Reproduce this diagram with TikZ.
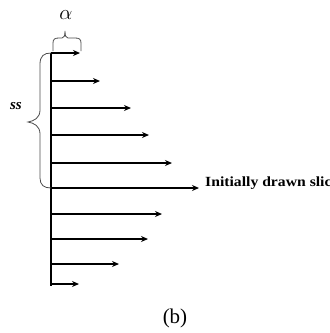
\documentclass[tikz,border=0pt]{standalone}
\usepackage{fontspec}
\setmainfont{Liberation Serif}
\usetikzlibrary{arrows.meta}
\begin{document}
\begin{tikzpicture}[x=1pt,y=-1pt,
  ray/.style={line width=1.2pt,-{Stealth[length=7pt,width=6pt]}},
  bracestyle/.style={line width=0.8pt,gray!60!black}]
\useasboundingbox (0,0) rectangle (330,333);
\coordinate (top) at (51,53);
\coordinate (bot) at (51,286);
\draw[line width=1.6pt] (top) -- (bot);
% rays
\foreach \n/\y/\x in {1/53/80,2/81/100,3/108/131,4/135/149,5/163/172,6/188/199,7/214/162,8/239/148,9/264/119,10/284/79}{
  \coordinate (s\n) at (51,\y);
  \coordinate (e\n) at (\x,\y);
  \draw[ray] (s\n) -- (e\n);
}
\node[anchor=base west,inner sep=0pt,font=\bfseries\fontsize{14}{16}\selectfont] (lbl) at (205,186) {\scalebox{1.12}[1]{Initially drawn slice}};
% left brace
\draw[bracestyle] (51,53) .. controls (44,53) and (40,56) .. (40,64)
  -- (40,110) .. controls (40,118) and (34,121) .. (28,122)
  .. controls (34,123) and (40,126) .. (40,134)
  -- (40,178) .. controls (40,185) and (44,188) .. (51,188);
\node[font=\bfseries\itshape\fontsize{15}{17}\selectfont] (ss) at (16,106) {ss};
% top brace
\draw[bracestyle] (53,51) -- (53,43) .. controls (53,39) and (55,38) .. (59,38)
  -- (62,38) .. controls (64,38) and (65,36) .. (65,31)
  .. controls (65,36) and (66,38) .. (68,38)
  -- (75,38) .. controls (79,38) and (81,39) .. (81,43) -- (81,51);
\node[font=\fontsize{22}{24}\selectfont] (alpha) at (66,15) {$\alpha$};
\node[font=\fontsize{21}{24}\selectfont] (b) at (175,318) {(b)};
\end{tikzpicture}
\end{document}
